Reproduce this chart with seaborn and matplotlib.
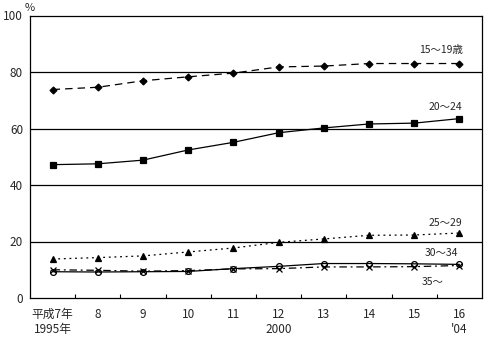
import matplotlib
matplotlib.use("Agg")
import matplotlib.pyplot as plt
import seaborn as sns
import numpy as np

# Survey years (Heisei era, with Western-calendar hints)
years = ["平成7年\n1995年", "8", "9", "10", "11", "12\n2000", "13", "14", "15", "16\n'04"]

# Rates by age group (%)
age_15_19 = [73.8, 74.6, 76.9, 78.3, 79.6, 81.8, 82.1, 83.0, 83.0, 83.0]
age_20_24 = [47.2, 47.5, 48.8, 52.4, 55.1, 58.5, 60.2, 61.6, 61.9, 63.5]
age_25_29 = [13.8, 14.3, 14.9, 16.3, 17.7, 19.7, 20.9, 22.2, 22.3, 23.0]
age_30_34 = [9.3, 9.2, 9.3, 9.4, 10.4, 11.2, 12.2, 12.2, 12.1, 11.9]
age_35_up = [10.0, 9.8, 9.5, 9.7, 10.3, 10.4, 11.0, 11.0, 11.1, 11.5]

series_labels = ["15〜19歳", "20〜24", "25〜29", "30〜34", "35〜"]

sns.set_theme(style="white")
plt.rcParams["font.family"] = ["Noto Sans CJK JP", "DejaVu Sans"]

fig = plt.figure(figsize=(4.92, 3.37), dpi=100)
ax = fig.add_axes([30 / 492, 1 - 298 / 337, 452 / 492, 282.5 / 337])

x = np.arange(len(years))
styles = [
    (age_15_19, "D", 3.5, (0, (6, 4)), "black"),
    (age_20_24, "s", 4.5, "-", "black"),
    (age_25_29, "^", 5, (0, (1.5, 3)), "black"),
    (age_30_34, "o", 4.2, "-", "none"),
    (age_35_up, "x", 4.2, (0, (6, 3, 1.5, 3)), "black"),
]
for vals, mk, ms, ls, mfc in styles:
    sns.lineplot(x=x, y=vals, ax=ax, color="black", lw=0.9, linestyle=ls,
                 marker=mk, markersize=ms, markerfacecolor=mfc,
                 markeredgecolor="black", markeredgewidth=0.9)

# Horizontal reference lines
for yv in [20, 40, 60, 80]:
    ax.axhline(yv, color="black", lw=0.9, zorder=0)

ax.set_xlim(-0.5, len(years) - 0.5)
ax.set_ylim(0, 100)
ax.set_yticks([0, 20, 40, 60, 80, 100])
ax.set_xticks(x)
ax.set_xticklabels(years, fontsize=8.5, linespacing=1.2)
ax.set_xticks(np.arange(0.5, len(years) - 1, 1), minor=True)
ax.tick_params(axis="x", which="major", length=0, pad=7)
ax.tick_params(axis="x", which="minor", direction="in", length=3, width=0.8,
               color="black", bottom=True)
ax.tick_params(axis="y", length=0, pad=5, labelsize=8.5)
for sp in ax.spines.values():
    sp.set_color("black")
    sp.set_linewidth(0.9)
ax.set_xlabel("")
ax.set_ylabel("")

ax.text(0, 1.008, "%", transform=ax.transAxes, ha="center", va="bottom", fontsize=8)

# Series labels near the right end
label_pos = [(8.6, 87.8), (8.68, 67.6), (8.68, 26.5), (8.6, 15.9), (8.4, 5.7)]
for txt, (lx, ly) in zip(series_labels, label_pos):
    ax.text(lx, ly, txt, ha="center", va="center", fontsize=7.5)

fig.savefig("out.png", dpi=100, facecolor="white")
